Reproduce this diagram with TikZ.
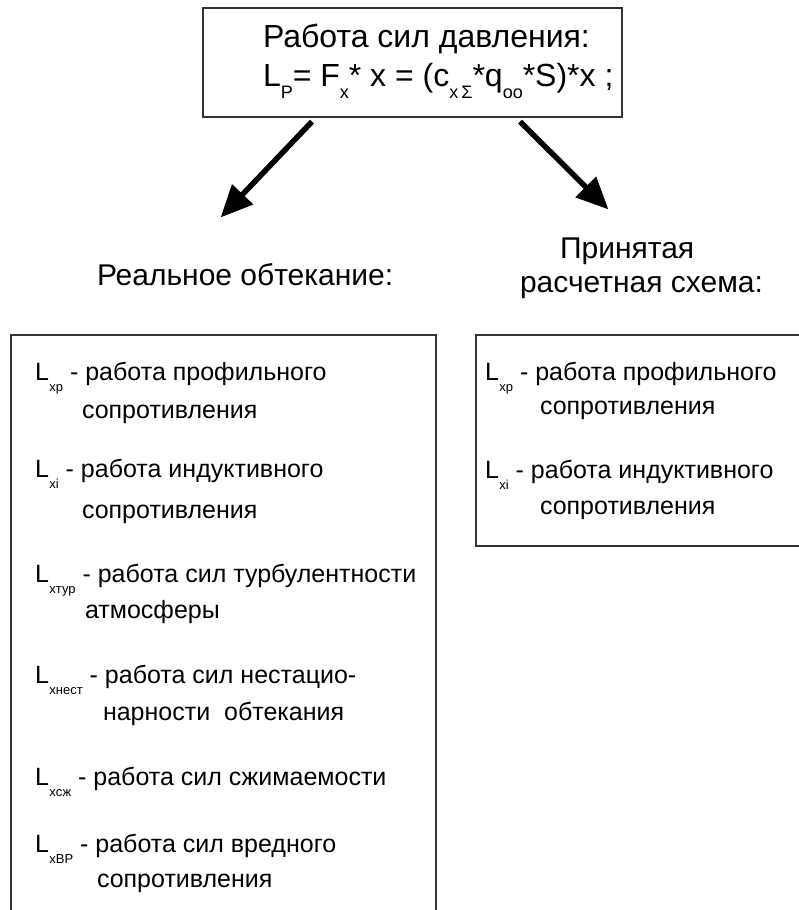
\documentclass[tikz,border=0pt]{standalone}
\usepackage{fontspec}
\setmainfont{Liberation Sans}
\usetikzlibrary{arrows.meta}
\newcommand\bodyfont{\fontsize{25}{30}\selectfont}
\newcommand\headfont{\fontsize{30}{36}\selectfont}
\newcommand\topfont{\fontsize{32}{38}\selectfont}
\newcommand\Lsub[1]{L\kern0.5pt\raisebox{-11pt}{\fontsize{13}{13}\selectfont x#1}}
\newcommand\fsub[1]{\raisebox{-12pt}{\fontsize{18}{18}\selectfont #1}}
\tikzset{
  txt/.style={anchor=base west, inner sep=0pt, outer sep=0pt, text=black},
  body/.style={txt, font=\bodyfont},
  head/.style={txt, font=\headfont},
  tophead/.style={txt, font=\topfont},
  frame/.style={draw=black!80, line width=1.6pt},
  arr/.style={line width=5.5pt, black, -{Triangle[length=32pt,width=28pt]}, shorten >=-2pt}
}
\begin{document}
\begin{tikzpicture}[x=1pt,y=-1pt]
\useasboundingbox (0,0) rectangle (798,910);
% top box
\node[frame, minimum width=419pt, minimum height=109pt, anchor=north west, inner sep=0pt] (top) at (202,7) {};
\node[tophead] (t1) at (263,47) {Работа сил давления:};
\node[tophead] (t2) at (263,86) {L\fsub{P}= F\fsub{x}* x = (c\fsub{x\,Σ}*q\fsub{oo}*S)*x ;};
% arrows
\coordinate (tipL) at (222,216);
\coordinate (tipR) at (607,208);
\draw[arr] (top.south west) ++(110,4) -- (tipL);
\draw[arr] (top.south west) ++(318,4) -- (tipR);
% headings
\node[head] (hL) at (97,285) {Реальное обтекание:};
\node[head] (hR1) at (560,258) {Принятая};
\node[head] (hR2) at (520,292) {расчетная схема:};
% left box
\draw[frame] (11,912) -- (11,335) -- (436,335) -- (436,912);
\node[body] (a1) at (35,380) {\Lsub{p} - работа профильного};
\node[body] (a2) at (82,418) {сопротивления};
\node[body] (b1) at (35,477) {\Lsub{i} - работа индуктивного};
\node[body] (b2) at (82,518) {сопротивления};
\node[body] (c1) at (35,582) {\Lsub{тур} - работа сил турбулентности};
\node[body] (c2) at (85,618) {атмосферы};
\node[body] (d1) at (35,683) {\Lsub{нест} - работа сил нестацио-};
\node[body] (d2) at (103,720) {нарности\ \ обтекания};
\node[body] (e1) at (35,785) {\Lsub{сж} - работа сил сжимаемости};
\node[body] (f1) at (35,852) {\Lsub{ВР} - работа сил вредного};
\node[body] (f2) at (97,887) {сопротивления};
% right box
\draw[frame] (800,335) -- (476,335) -- (476,546) -- (800,546);
\node[body] (r1) at (485,380) {\Lsub{p} - работа профильного};
\node[body] (r2) at (540,414) {сопротивления};
\node[body] (r3) at (485,478) {\Lsub{i} - работа индуктивного};
\node[body] (r4) at (540,514) {сопротивления};
\end{tikzpicture}
\end{document}
